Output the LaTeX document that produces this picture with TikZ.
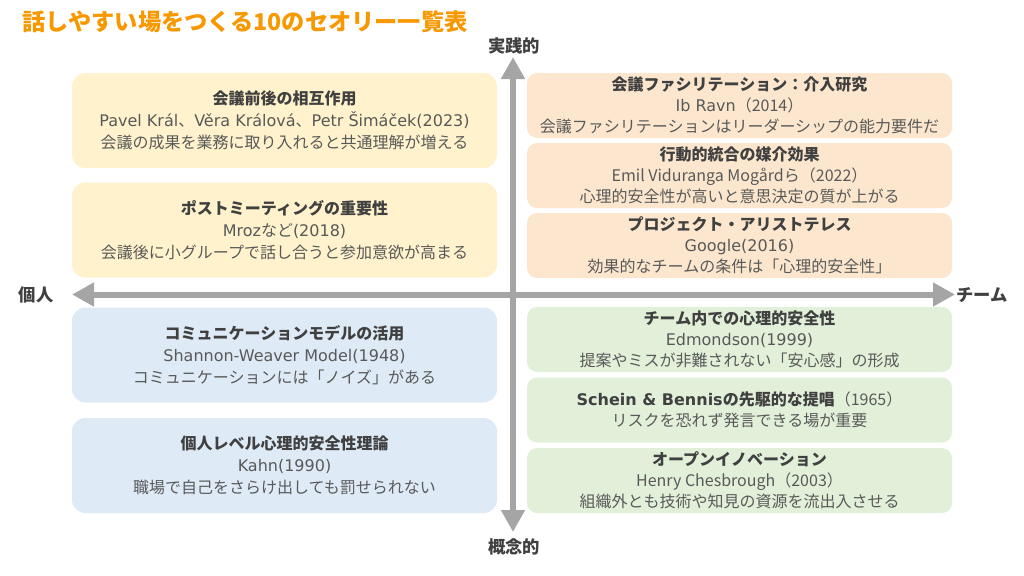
\documentclass[tikz,border=0pt]{standalone}
\usepackage{fontspec}
\setmainfont{Noto Sans CJK JP}
\newfontfamily\verd{DejaVu Sans}
\usepackage{tikz}
\usetikzlibrary{arrows.meta}

\definecolor{titleorange}{HTML}{F79800}
\definecolor{axisgray}{HTML}{A5A5A5}
\definecolor{headgray}{HTML}{404040}
\definecolor{bodygray}{HTML}{595959}
\definecolor{yellowbox}{HTML}{FFF2CC}
\definecolor{peachbox}{HTML}{FCE7CE}
\definecolor{bluebox}{HTML}{DEEBF7}
\definecolor{greenbox}{HTML}{E2F0D9}

\newcommand{\boxhead}[1]{{\bfseries\color{headgray}#1}}

\tikzset{
	theory/.style = {rounded corners = 10pt, inner sep = 0pt, align = center,
		minimum width = 318.75pt, minimum height = 71.25pt,
		text = bodygray, font = \fontsize{12}{16.5}\selectfont},
	theorysmall/.style = {theory, rounded corners = 7.5pt, minimum height = 48.75pt,
		font = \fontsize{12}{15.75}\selectfont},
	axislabel/.style = {text = headgray, font = \fontsize{13}{15}\selectfont\bfseries, inner sep = 0pt},
	axis/.style = {draw = axisgray, line width = 4.5pt, {Triangle[length = 16.5pt, width = 17pt]}-{Triangle[length = 16.5pt, width = 17pt]}}
}

\begin{document}
\begin{tikzpicture}[x = 0.75pt, y = -0.75pt]
		\useasboundingbox (0,0) rectangle (1024,575);
		\node[anchor = west, inner sep = 0pt, text = titleorange, font = \fontsize{17.4}{20}\selectfont\bfseries] (title) at (22,22) {話しやすい場をつくる10のセオリー一覧表};

		\coordinate (top) at (513,57);
		\coordinate (bottom) at (513,532);
		\coordinate (left) at (72,294.5);
		\coordinate (right) at (955,294.5);
		\draw[axis] (bottom) -- (top);
		\draw[axis] (left) -- (right);
		\node[axislabel] (practical) at (514,46) {実践的};
		\node[axislabel] (conceptual) at (514,547) {概念的};
		\node[axislabel] (individual) at (36,295) {個人};
		\node[axislabel] (team) at (982,295) {チーム};

		\node[theory, fill = yellowbox] (prepost) at (284.5,120.5) {\boxhead{会議前後の相互作用}\\{\verd Pavel Král}、{\verd Věra Králová}、{\verd Petr Šimáček(2023)}\\会議の成果を業務に取り入れると共通理解が増える};
		\node[theory, fill = yellowbox] (postmeeting) at (284.5,230) {\boxhead{ポストミーティングの重要性}\\{\verd Mroz}など{\verd (2018)}\\会議後に小グループで話し合うと参加意欲が高まる};
		\node[theory, fill = bluebox] (commodel) at (284.5,355) {\boxhead{コミュニケーションモデルの活用}\\{\verd Shannon-Weaver Model(1948)}\\コミュニケーションには「ノイズ」がある};
		\node[theory, fill = bluebox] (kahn) at (284.5,465.5) {\boxhead{個人レベル心理的安全性理論}\\{\verd Kahn(1990)}\\職場で自己をさらけ出しても罰せられない};

		\node[theorysmall, fill = peachbox] (facilitation) at (739.5,105.5) {\boxhead{会議ファシリテーション：介入研究}\\{\verd Ib Ravn}（2014）\\会議ファシリテーションはリーダーシップの能力要件だ};
		\node[theorysmall, fill = peachbox] (integration) at (739.5,175.5) {\boxhead{行動的統合の媒介効果}\\Emil Viduranga Mogårdら（2022）\\心理的安全性が高いと意思決定の質が上がる};
		\node[theorysmall, fill = peachbox] (aristotle) at (739.5,245.5) {\boxhead{プロジェクト・アリストテレス}\\{\verd Google(2016)}\\効果的なチームの条件は「心理的安全性」};
		\node[theorysmall, fill = greenbox] (edmondson) at (739.5,339.5) {\boxhead{チーム内での心理的安全性}\\{\verd Edmondson(1999)}\\提案やミスが非難されない「安心感」の形成};
		\node[theorysmall, fill = greenbox] (schein) at (739.5,410) {\boxhead{{\verd Schein \& Bennis}の先駆的な提唱}（1965）\\リスクを恐れず発言できる場が重要};
		\node[theorysmall, fill = greenbox] (openinnov) at (739.5,480.5) {\boxhead{オープンイノベーション}\\Henry Chesbrough（2003）\\組織外とも技術や知見の資源を流出入させる};
	\end{tikzpicture}
\end{document}
